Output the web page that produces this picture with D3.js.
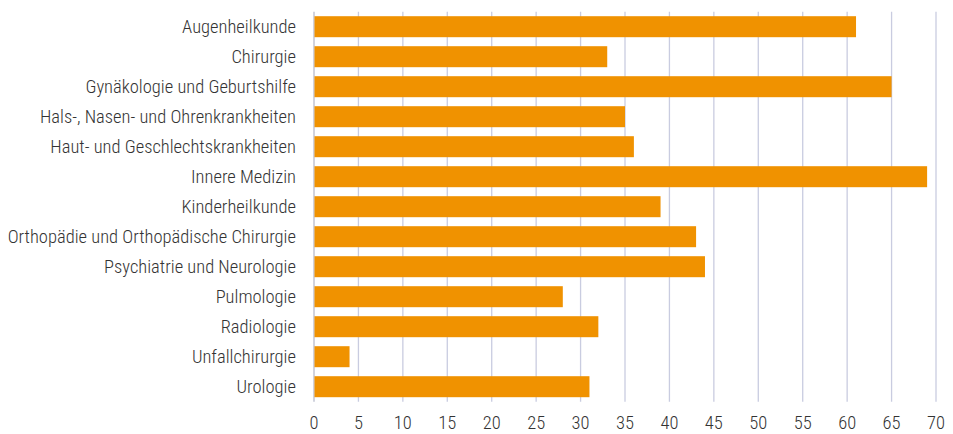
<!DOCTYPE html>
<html><head><meta charset="utf-8">
<script src="https://cdn.jsdelivr.net/npm/d3@7"></script>
<style>
html,body{margin:0;padding:0;background:#fff;}
svg text{font-family:"Roboto Condensed","Liberation Sans Narrow","Arial Narrow",sans-serif;font-stretch:condensed;font-weight:300;fill:#333;}
</style></head>
<body><svg id="c" width="953" height="434"></svg>
<script>
const categories = ["Augenheilkunde","Chirurgie","Gynäkologie und Geburtshilfe","Hals-, Nasen- und Ohrenkrankheiten","Haut- und Geschlechtskrankheiten","Innere Medizin","Kinderheilkunde","Orthopädie und Orthopädische Chirurgie","Psychiatrie und Neurologie","Pulmologie","Radiologie","Unfallchirurgie","Urologie"];
const values = [61,33,65,35,36,69,39,43,44,28,32,4,31];
const tickValues = [0,5,10,15,20,25,30,35,40,45,50,55,60,65,70];

const svg = d3.select("#c");
const x = d3.scaleLinear().domain([0,70]).range([314,936]);
const y = d3.scaleBand().domain(categories).range([11.7,401.7]).paddingInner(0.3).paddingOuter(0.15);

// gridlines
svg.append("g").selectAll("line").data(tickValues).join("line")
  .attr("x1",d=>x(d)).attr("x2",d=>x(d)).attr("y1",11.7).attr("y2",401.7)
  .attr("stroke",d=>d===0?"#b8bccc":"#c9cce0").attr("stroke-width",1.3);

// bars
svg.append("g").selectAll("rect").data(values).join("rect")
  .attr("x",x(0)+0.5).attr("y",(d,i)=>y(categories[i]))
  .attr("width",d=>x(d)-x(0)-0.5).attr("height",y.bandwidth())
  .attr("fill","#f09200");

// y labels
svg.append("g").selectAll("text").data(categories).join("text")
  .attr("x",296).attr("y",d=>y(d)+y.bandwidth()/2).attr("dy","0.35em")
  .attr("text-anchor","end").attr("font-size",18.5).text(d=>d);

// x tick labels
svg.append("g").selectAll("text").data(tickValues).join("text")
  .attr("x",d=>x(d)).attr("y",422.8).attr("dy","0.35em")
  .attr("text-anchor","middle").attr("font-size",18.5).text(d=>d);
</script></body></html>
